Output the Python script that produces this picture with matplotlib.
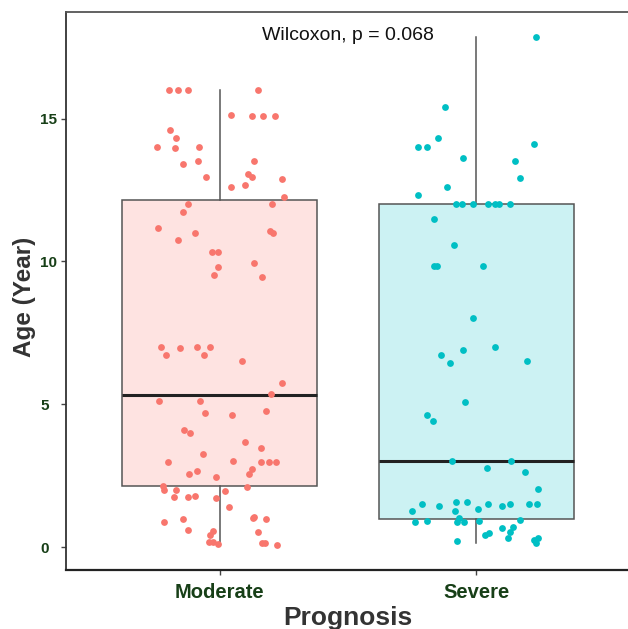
import numpy as np
import matplotlib.pyplot as plt

plt.rcParams['font.family'] = ['Liberation Sans', 'DejaVu Sans']

# ============================================================
# DONNEES
# ============================================================

groups = ['Moderate', 'Severe']

# boxplot summary
q1 = [2.13, 0.98]
med = [5.32, 3.00]
q3 = [12.15, 12.00]
whis_lo = [0.06, 0.14]
whis_hi = [16.00, 17.84]

# jittered points: age values and horizontal jitter offsets
age_moderate = [16.0, 16.0, 16.0, 16.0, 15.14, 15.08, 15.08, 15.08, 14.6, 14.33,
                13.99, 13.97, 13.99, 13.4, 13.52, 13.5, 12.97, 13.07, 12.97, 12.9,
                12.59, 12.66, 12.26, 12.0, 12.02, 11.74, 11.17, 10.99, 10.76, 11.05,
                10.99, 10.33, 10.33, 9.94, 9.82, 9.53, 9.44, 7.01, 6.73, 6.97,
                6.99, 6.73, 7.01, 6.51, 5.75, 5.34, 5.10, 5.10, 4.68, 4.63,
                4.77, 4.10, 3.98, 3.69, 3.48, 3.24, 2.98, 3.02, 2.98, 2.98,
                2.98, 2.72, 2.54, 2.55, 2.66, 2.45, 2.11, 2.15, 1.98, 1.98,
                1.75, 1.75, 1.80, 1.72, 1.96, 1.41, 0.89, 0.98, 0.60, 1.00,
                1.06, 0.98, 0.57, 0.42, 0.51, 0.16, 0.16, 0.10, 0.13, 0.15,
                0.06]
jit_moderate = [-0.197, -0.162, -0.123, 0.150, 0.045, 0.127, 0.170, 0.216, -0.193, -0.170,
                -0.244, -0.173, -0.080, -0.142, -0.084, 0.135, -0.053, 0.111, 0.127, 0.244,
                0.045, 0.099, 0.251, -0.123, 0.205, -0.142, -0.240, -0.096, -0.162, 0.197,
                0.209, -0.029, -0.006, 0.135, -0.006, -0.021, 0.166, -0.228, -0.209, -0.154,
                -0.088, -0.060, -0.037, 0.088, 0.244, 0.201, -0.236, -0.076, -0.057, 0.049,
                0.181, -0.138, -0.115, 0.099, 0.162, -0.064, -0.201, 0.053, 0.162, 0.193,
                0.220, 0.127, 0.115, -0.119, -0.088, -0.014, 0.107, -0.220, -0.216, -0.170,
                -0.177, -0.123, -0.096, -0.014, 0.021, 0.037, -0.216, -0.142, -0.123, 0.131,
                0.135, 0.181, -0.025, -0.037, 0.150, -0.041, -0.025, -0.006, 0.166, 0.177,
                0.224]

age_severe = [17.84, 15.41, 14.33, 13.99, 13.99, 13.62, 14.1, 13.51, 12.92, 12.6,
              12.33, 12.0, 12.0, 12.0, 12.0, 12.0, 12.0, 12.0, 11.48, 10.56,
              9.83, 9.83, 9.83, 8.0, 6.72, 6.45, 6.9, 7.01, 6.5, 5.06,
              4.63, 4.42, 3.01, 3.0, 2.75, 2.64, 2.02, 1.52, 1.26, 1.45,
              1.59, 1.56, 1.26, 1.32, 1.49, 1.45, 1.52, 1.49, 1.52, 0.89,
              0.91, 0.89, 1.0, 0.89, 0.91, 0.93, 0.66, 0.71, 0.54, 0.30,
              0.43, 0.50, 0.21, 0.25, 0.14, 0.31]
jit_severe = [0.234, -0.121, -0.148, -0.226, -0.191, -0.051, 0.226, 0.152, 0.172, -0.113,
              -0.226, -0.078, -0.055, -0.012, 0.047, 0.074, 0.090, 0.133, -0.164, -0.086,
              -0.164, -0.152, 0.027, -0.012, -0.136, -0.101, -0.051, 0.074, 0.199, -0.043,
              -0.191, -0.168, -0.094, 0.136, 0.043, 0.191, 0.242, -0.211, -0.250, -0.144,
              -0.078, -0.035, -0.082, 0.008, 0.047, 0.101, 0.133, 0.207, 0.238, -0.238,
              -0.191, -0.074, -0.066, -0.047, 0.012, 0.172, 0.101, 0.144, 0.133, 0.125,
              0.035, 0.051, -0.074, 0.226, 0.234, 0.242]

p_value = 0.068

# ============================================================
# GRAPHIQUE
# ============================================================

red = '#F8766D'
teal = '#00BFC4'
fills = ['#FEE3E1', '#CCF2F3']
edge = '#555555'
tick_col = '#173F17'
title_col = '#333333'

fig = plt.figure(figsize=(6.28, 6.29), dpi=100)
ax = fig.add_axes([0.1051, 0.0938, 0.8981, 0.8871])

positions = np.arange(1, len(groups) + 1)
stats = []
for i in range(len(groups)):
    stats.append({'q1': q1[i], 'med': med[i], 'q3': q3[i],
                  'whislo': whis_lo[i], 'whishi': whis_hi[i], 'fliers': []})

bp = ax.bxp(stats, positions=positions, widths=0.76, patch_artist=True,
            showcaps=False,
            boxprops=dict(edgecolor=edge, linewidth=1.1),
            whiskerprops=dict(color=edge, linewidth=1.1),
            medianprops=dict(color='#222222', linewidth=2.2, solid_capstyle='butt'))
for patch, c in zip(bp['boxes'], fills):
    patch.set_facecolor(c)

ax.scatter(positions[0] + np.array(jit_moderate), age_moderate, s=24, color=red,
           linewidths=0, zorder=3)
ax.scatter(positions[1] + np.array(jit_severe), age_severe, s=24, color=teal,
           linewidths=0, zorder=3)

ax.text(1.5, 17.9, f'Wilcoxon, p = {p_value}', ha='center', va='center',
        fontsize=14, color='#111111')

ax.set_xlim(0.4, 2.6)
ax.set_ylim(-0.805, 18.73)
ax.set_xticks(positions)
ax.set_xticklabels(groups)
ax.set_yticks([0, 5, 10, 15])

for lab in ax.get_xticklabels():
    lab.set_fontsize(14.5)
    lab.set_fontweight('bold')
    lab.set_color(tick_col)
for lab in ax.get_yticklabels():
    lab.set_fontsize(11)
    lab.set_fontweight('bold')
    lab.set_color(tick_col)
    lab.set_horizontalalignment('left')
ax.tick_params(axis='x', length=3.5, width=1, color='#444444', pad=6)
ax.tick_params(axis='y', length=3.5, width=1, color='#444444', pad=15)

ax.set_ylabel('Age (Year)', fontsize=17.5, fontweight='bold', color=title_col)
ax.yaxis.set_label_coords(-0.054, 0.49)
ax.set_xlabel('Prognosis', fontsize=19, fontweight='bold', color=title_col)
ax.xaxis.set_label_coords(0.5, -0.064)

ax.spines['left'].set_color('#333333')
ax.spines['left'].set_linewidth(1.3)
ax.spines['bottom'].set_color('#222222')
ax.spines['bottom'].set_linewidth(1.6)
ax.spines['top'].set_color('#555555')
ax.spines['top'].set_linewidth(1.3)
ax.spines['right'].set_color('#bbbbbb')

plt.savefig('out.png', dpi=100, facecolor='white')
